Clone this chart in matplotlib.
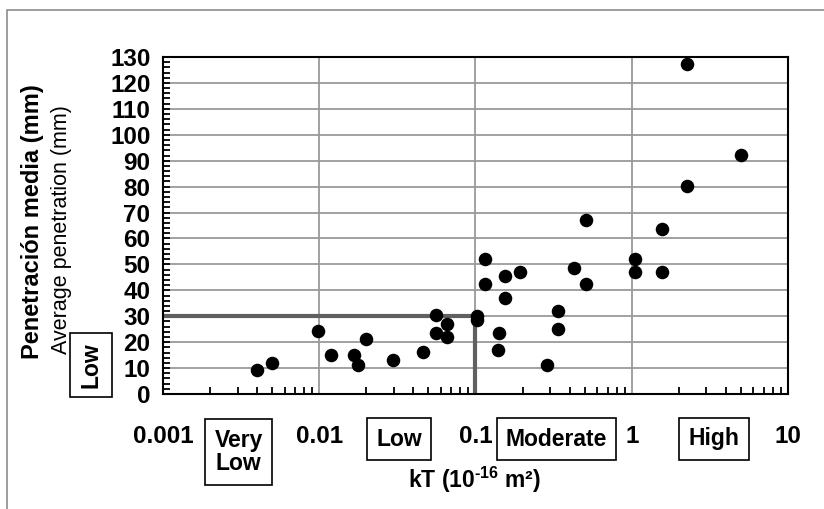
import numpy as np
import matplotlib.pyplot as plt
from matplotlib.patches import Rectangle
from matplotlib.ticker import MultipleLocator, LogLocator, NullFormatter, FixedLocator, FixedFormatter

plt.rcParams['font.family'] = ['Liberation Sans', 'DejaVu Sans']
plt.rcParams['mathtext.fontset'] = 'custom'
plt.rcParams['mathtext.rm'] = 'Liberation Sans'
plt.rcParams['mathtext.bf'] = 'Liberation Sans:bold'

# --- data ---
kt = [0.0040, 0.0050, 0.0098, 0.0119, 0.0167, 0.0177, 0.0199, 0.0296, 0.0461,
      0.0559, 0.0559, 0.0654, 0.0654, 0.102, 0.102, 0.115, 0.115, 0.155, 0.155,
      0.194, 0.141, 0.139, 0.288, 0.339, 0.339, 0.427, 0.507, 0.51, 1.045, 1.045,
      1.57, 1.57, 2.26, 2.26, 4.98]
pen = [9.3, 12.0, 24.3, 15.0, 15.0, 11.2, 21.2, 13.1, 16.2,
       30.5, 23.5, 27.1, 22.1, 30.0, 28.5, 52.2, 42.3, 45.5, 37.2,
       47.1, 23.4, 17.1, 11.1, 32.1, 25.2, 48.5, 42.3, 67.1, 52.2, 47.1,
       63.5, 47.2, 127.3, 80.4, 92.2]

limit_kt = 0.1   # reference lines
limit_pen = 30

x_ticks = [0.001, 0.01, 0.1, 1, 10]
x_tick_labels = ['0.001', '0.01', '0.1', '1', '10']
class_labels = ['Very\nLow', 'Low', 'Moderate', 'High']
class_pos = [0.00305, 0.0326, 0.33, 3.36]

# ------------ plot ------------
fig = plt.figure(figsize=(8.24, 5.09), dpi=100)
ax = fig.add_axes([0.1978, 0.2259, 0.7585, 0.6621])

# outer frame (only top and left visible)
fig.patches.append(Rectangle((7 / 824, -0.1), 1.2, 1.1 - 10 / 509, transform=fig.transFigure,
                             fill=False, edgecolor='#8c8c8c', linewidth=1.2))

ax.set_xscale('log')
ax.set_xlim(0.001, 10)
ax.set_ylim(0, 130)

ax.yaxis.set_major_locator(MultipleLocator(10))
ax.yaxis.set_minor_locator(MultipleLocator(2))
ax.xaxis.set_major_locator(FixedLocator(x_ticks))
ax.xaxis.set_major_formatter(FixedFormatter(x_tick_labels))
ax.xaxis.set_minor_locator(LogLocator(base=10, subs=np.arange(2, 10)))
ax.xaxis.set_minor_formatter(NullFormatter())

ax.grid(True, which='major', color='#9a9a9a', linewidth=1.3)
ax.set_axisbelow(True)

for s in ax.spines.values():
    s.set_linewidth(1.5)
    s.set_color('black')

ax.tick_params(axis='both', which='both', direction='in', top=False, right=False,
               length=5, width=1.3)
ax.tick_params(axis='x', which='major', length=0, pad=22, labelsize=17.5)
ax.tick_params(axis='y', which='major', pad=9, labelsize=17.5)
for lab in ax.get_xticklabels() + ax.get_yticklabels():
    lab.set_fontweight('bold')

# threshold lines
ax.plot([0.001, limit_kt], [limit_pen, limit_pen], color='#606060', linewidth=3, zorder=2)
ax.plot([limit_kt, limit_kt], [0, limit_pen], color='#606060', linewidth=3, zorder=2)

ax.scatter(kt, pen, s=95, color='black', zorder=3, linewidths=0)

# axis labels
fig.text(33 / 824, 1 - 222 / 509, 'Penetración media (mm)', rotation=90, fontsize=17,
         fontweight='bold', ha='center', va='center')
fig.text(62 / 824, 1 - 230 / 509, 'Average penetration (mm)', rotation=90, fontsize=15.5,
         ha='center', va='center')
fig.text(474 / 824, 1 - 480 / 509, 'kT (10$^{\\mathbf{\u2010 16}}$ m²)', fontsize=16.5,
         fontweight='bold', ha='center', va='center')

box = dict(boxstyle='square,pad=0.4', facecolor='white', edgecolor='black', linewidth=1.2)
fig.text(91 / 824, 1 - 365 / 509, 'Low', rotation=90, fontsize=16.5, fontweight='bold',
         ha='center', va='center', bbox=box)

# permeability classes under the x axis
class_y = [452, 439, 439, 439]
for lab, xp, yp in zip(class_labels, class_pos, class_y):
    xf = ax.transData.transform((xp, 0))[0] / fig.bbox.width
    fig.text(xf, 1 - yp / 509, lab, fontsize=16.5, fontweight='bold', ha='center',
             va='center', bbox=box, linespacing=1.05)

fig.savefig('out.png', dpi=100)
